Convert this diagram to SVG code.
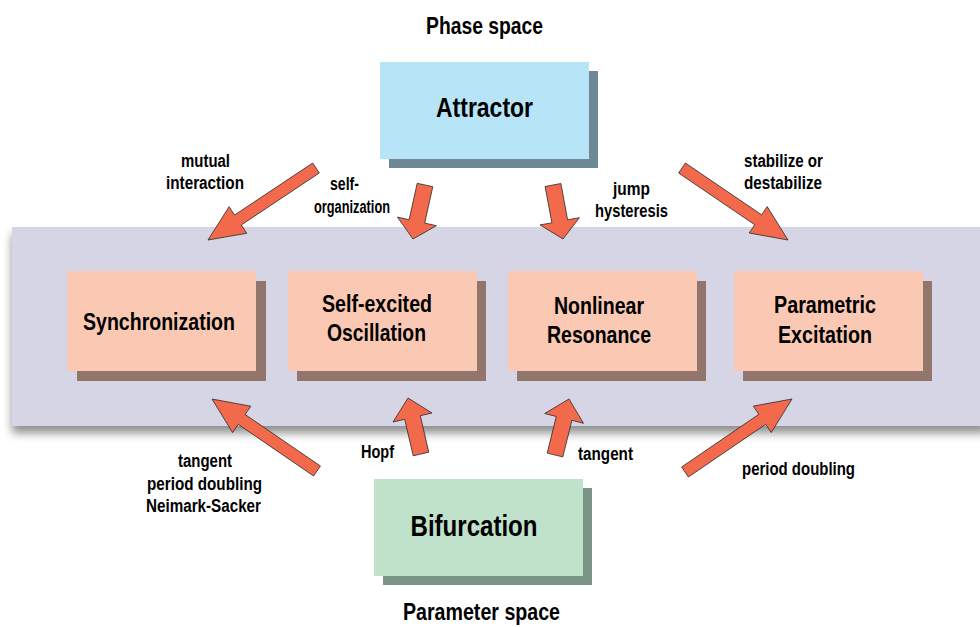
<svg xmlns="http://www.w3.org/2000/svg" width="980" height="627" viewBox="0 0 980 627">
<defs>
<style>
text{font-family:"Liberation Sans Narrow","Liberation Sans",Arial,sans-serif;font-weight:bold;fill:#000;text-anchor:middle}
.lbl{font-size:18px}
.box{font-size:24px}
.title{font-size:23px}
.arrow{fill:#f26a4b;stroke:#2a2a2a;stroke-width:0.8;stroke-linejoin:miter}
.proc{fill:#fbc8b3}
.procsh{fill:#93766b}
</style>
<filter id="bandShadow" x="-5%" y="-20%" width="110%" height="140%">
<feGaussianBlur in="SourceAlpha" stdDeviation="5"/>
<feOffset dx="0" dy="7"/>
<feComponentTransfer><feFuncA type="linear" slope="0.45"/></feComponentTransfer>
<feMerge><feMergeNode/><feMergeNode in="SourceGraphic"/></feMerge>
</filter>
</defs>
<rect width="980" height="627" fill="#ffffff"/>

<g id="band">
<rect x="12" y="227" width="975" height="199" fill="#d5d5e6" filter="url(#bandShadow)"/>
</g>

<g id="phase-space-label">
<text class="title" x="484.5" y="34" textLength="117" lengthAdjust="spacingAndGlyphs">Phase space</text>
</g>

<g id="attractor">
<rect x="389" y="71" width="209" height="97" fill="#6e8896"/>
<rect x="380" y="62" width="209" height="97" fill="#b8e4f8"/>
<text x="484.5" y="117" style="font-size:28px" textLength="97" lengthAdjust="spacingAndGlyphs">Attractor</text>
</g>

<g id="synchronization">
<rect class="procsh" x="77" y="281" width="189" height="100"/>
<rect class="proc" x="67" y="271" width="189" height="100"/>
<text class="box" x="159" y="330" textLength="152" lengthAdjust="spacingAndGlyphs">Synchronization</text>
</g>

<g id="self-excited-oscillation">
<rect class="procsh" x="297" y="281" width="189" height="100"/>
<rect class="proc" x="288" y="271" width="189" height="100"/>
<text class="box" x="377" y="312" textLength="110" lengthAdjust="spacingAndGlyphs">Self-excited</text>
<text class="box" x="376.5" y="341" textLength="99" lengthAdjust="spacingAndGlyphs">Oscillation</text>
</g>

<g id="nonlinear-resonance">
<rect class="procsh" x="517" y="281" width="189" height="100"/>
<rect class="proc" x="508" y="271" width="189" height="100"/>
<text class="box" x="599" y="314" textLength="90" lengthAdjust="spacingAndGlyphs">Nonlinear</text>
<text class="box" x="599" y="343" textLength="104" lengthAdjust="spacingAndGlyphs">Resonance</text>
</g>

<g id="parametric-excitation">
<rect class="procsh" x="743" y="281" width="189" height="100"/>
<rect class="proc" x="734" y="271" width="189" height="100"/>
<text class="box" x="825" y="313" textLength="102" lengthAdjust="spacingAndGlyphs">Parametric</text>
<text class="box" x="825" y="343" textLength="94" lengthAdjust="spacingAndGlyphs">Excitation</text>
</g>

<g id="bifurcation">
<rect x="383" y="488" width="209" height="97" fill="#7a9586"/>
<rect x="374" y="479" width="209" height="97" fill="#c0e2cb"/>
<text x="474" y="536" style="font-size:29px" textLength="127" lengthAdjust="spacingAndGlyphs">Bifurcation</text>
</g>

<g id="parameter-space-label">
<text class="title" x="481.5" y="620" textLength="157" lengthAdjust="spacingAndGlyphs">Parameter space</text>
</g>

<g id="connectors">
<polygon class="arrow" points="312.7,163 234.6,215 229.1,206.7 208,240 246.8,233.3 241.3,225 319.3,173"/>
<polygon class="arrow" points="417.2,183.3 409.1,219.7 397.4,217.1 413,239 436.4,225.7 424.7,223.1 432.8,186.7"/>
<polygon class="arrow" points="545.1,186.5 551.9,222.8 540,224.9 563,239 579.4,217.7 567.6,219.8 560.9,183.5"/>
<polygon class="arrow" points="678.6,173 754.8,224.8 749.2,233 788,240 767.2,206.6 761.6,214.8 685.4,163"/>
<polygon class="arrow" points="320.4,466 245.1,414.5 250.8,406.2 212,399 232.6,432.6 238.3,424.4 313.6,476"/>
<polygon class="arrow" points="428.8,452.2 420.3,415.7 432,413 408,398 393,422 404.7,419.3 413.2,455.8"/>
<polygon class="arrow" points="562.8,456.9 571.9,420.3 583.5,423.3 569,399 544.7,413.5 556.3,416.5 547.2,453.1"/>
<polygon class="arrow" points="688.4,477 765.7,424.3 771.3,432.5 792,399 753.3,406.1 758.9,414.3 681.6,467"/>
</g>

<g id="connector-labels">
<text class="lbl" x="205.5" y="167" textLength="49" lengthAdjust="spacingAndGlyphs">mutual</text>
<text class="lbl" x="205" y="189" textLength="78" lengthAdjust="spacingAndGlyphs">interaction</text>
<text class="lbl" x="344.5" y="190" textLength="29" lengthAdjust="spacingAndGlyphs">self-</text>
<text class="lbl" x="352" y="213" textLength="76" lengthAdjust="spacingAndGlyphs">organization</text>
<text class="lbl" x="631.5" y="195" textLength="37" lengthAdjust="spacingAndGlyphs">jump</text>
<text class="lbl" x="631.5" y="217" textLength="73" lengthAdjust="spacingAndGlyphs">hysteresis</text>
<text class="lbl" x="783.5" y="167" textLength="79" lengthAdjust="spacingAndGlyphs">stabilize or</text>
<text class="lbl" x="783" y="189" textLength="78" lengthAdjust="spacingAndGlyphs">destabilize</text>
<text class="lbl" x="205" y="467" textLength="54" lengthAdjust="spacingAndGlyphs">tangent</text>
<text class="lbl" x="204.5" y="490" textLength="115" lengthAdjust="spacingAndGlyphs">period doubling</text>
<text class="lbl" x="203.5" y="512" textLength="115" lengthAdjust="spacingAndGlyphs">Neimark-Sacker</text>
<text class="lbl" x="377.5" y="458" textLength="33" lengthAdjust="spacingAndGlyphs">Hopf</text>
<text class="lbl" x="605.5" y="460" textLength="55" lengthAdjust="spacingAndGlyphs">tangent</text>
<text class="lbl" x="798.5" y="475" textLength="113" lengthAdjust="spacingAndGlyphs">period doubling</text>
</g>
</svg>
